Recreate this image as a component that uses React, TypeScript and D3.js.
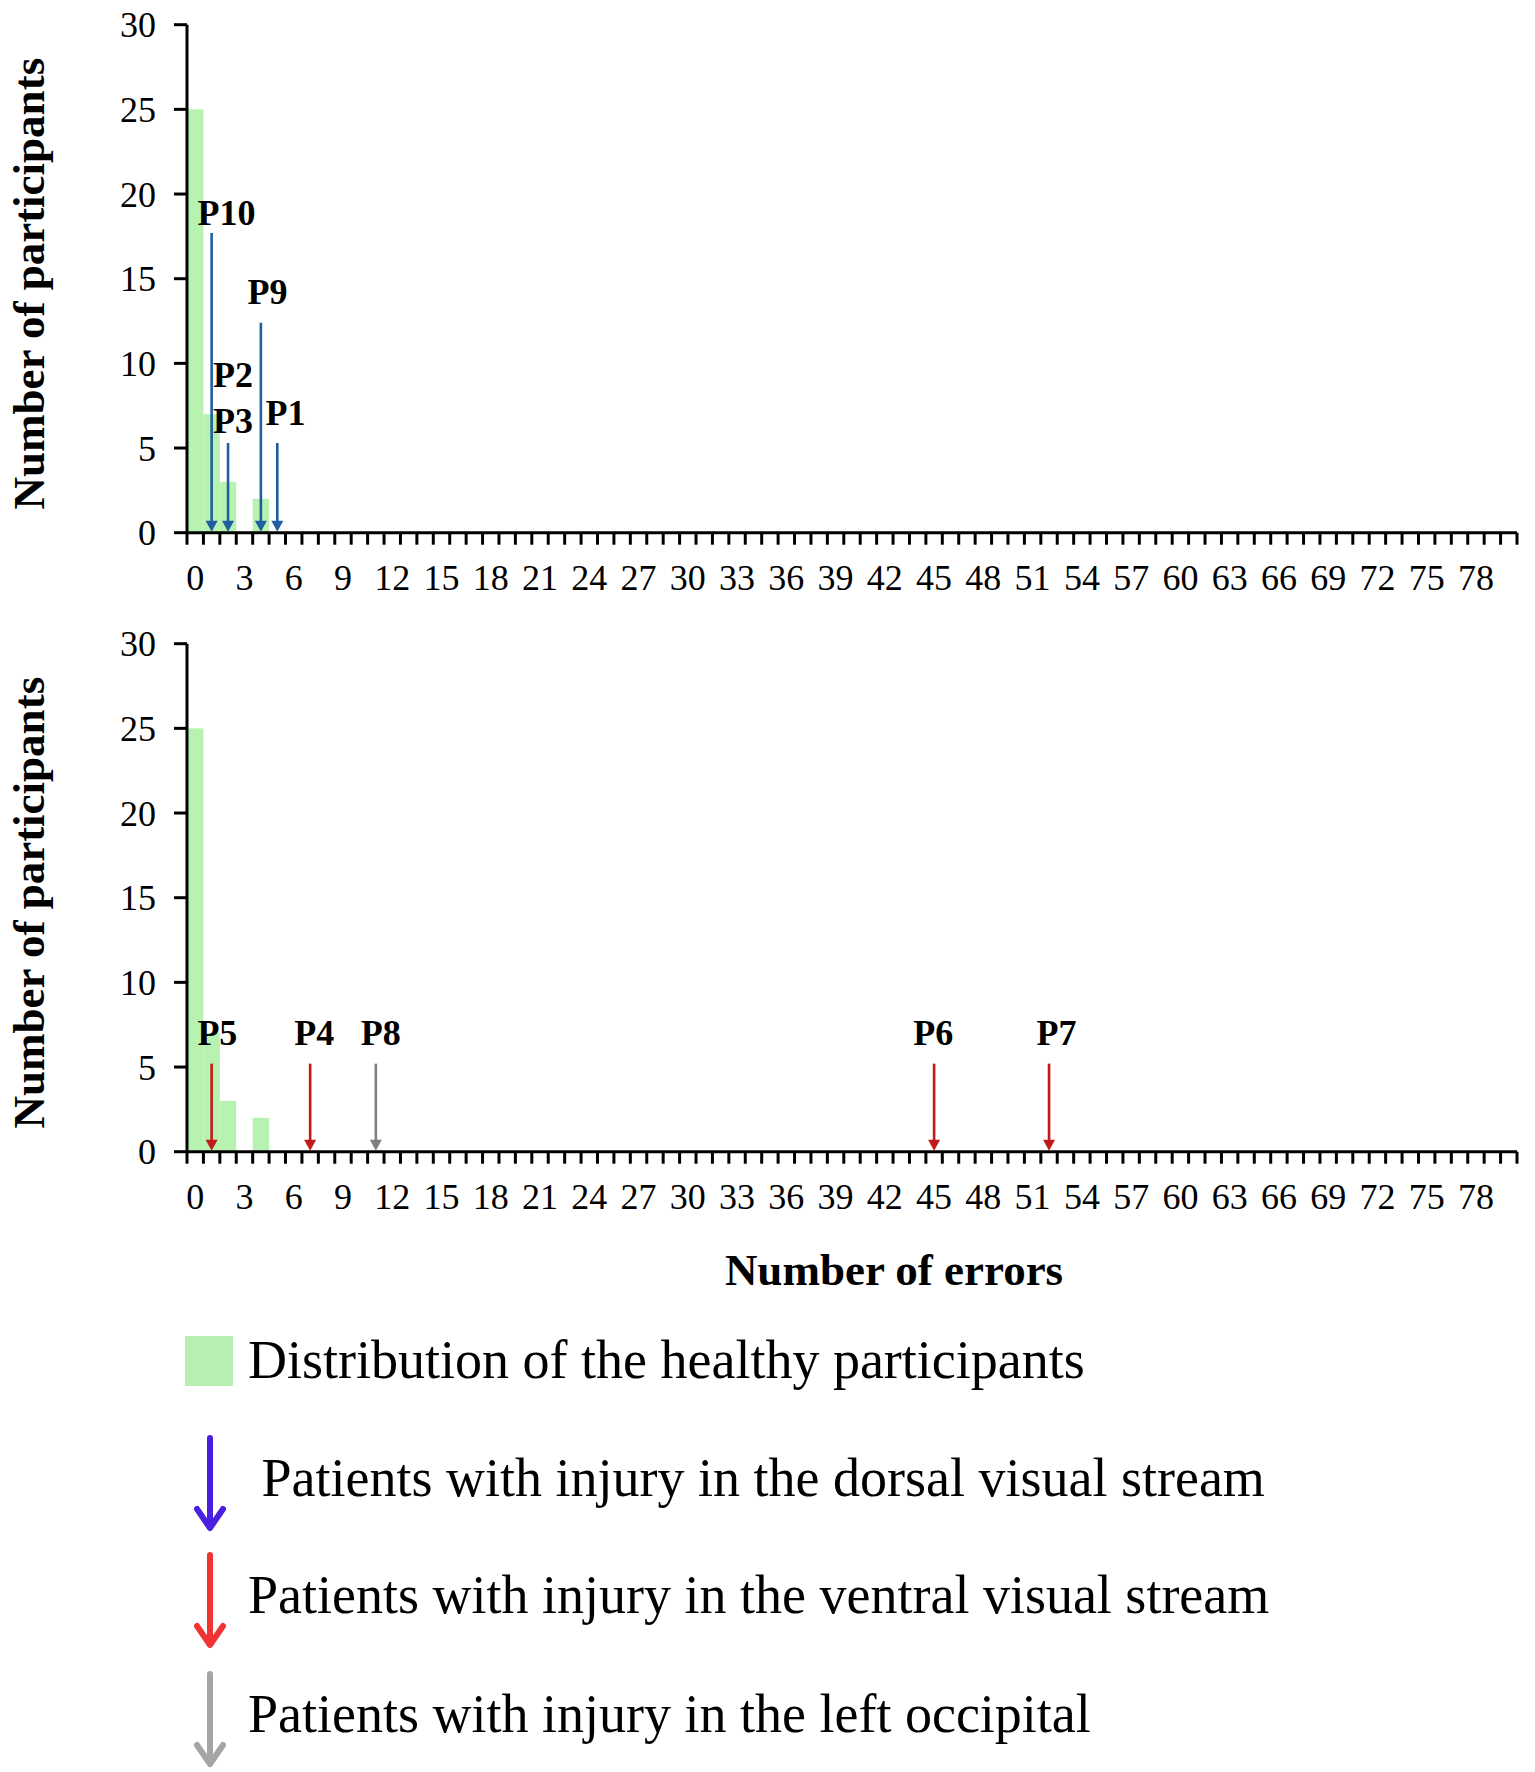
import * as d3 from "d3";

// histogram of healthy participants (bins = number of errors)
const errorBins = d3.range(0, 81);
const healthyCounts = [25, 7, 3, 0, 2];
const xTickLabels = d3.range(0, 79, 3);
const yTicks = [0, 5, 10, 15, 20, 25, 30];

// patients: label, number of errors
const dorsalPatients = [
  { id: "P10", errors: 1 },
  { id: "P3", errors: 2 },
  { id: "P9", errors: 4 },
  { id: "P1", errors: 5 },
];
const ventralPatients = [
  { id: "P5", errors: 1 },
  { id: "P4", errors: 7 },
  { id: "P6", errors: 45 },
  { id: "P7", errors: 52 },
];
const occipitalPatients = [{ id: "P8", errors: 11 }];
// P2 shares the arrow of P10 (label only)
const extraLabels = [{ id: "P2", errors: 2 }];

// arrow start (y value) and label placement per patient
const arrowTop: Record<string, number> = {
  P10: 17.7, P3: 5.3, P9: 12.4, P1: 5.3,
  P5: 5.2, P4: 5.2, P8: 5.2, P6: 5.2, P7: 5.2,
};
const labelPos: Record<string, [number, number]> = {
  P10: [0.9, 18.2], P2: [0.3, 8.6], P3: [0.3, 5.9], P9: [0.4, 13.5], P1: [0.5, 6.35],
  P5: [0.35, 6.3], P4: [0.25, 6.3], P8: [0.3, 6.3], P6: [-0.05, 6.3], P7: [0.45, 6.3],
};

const legendItems = [
  { kind: "rect", color: "#b6efb0", text: "Distribution of the healthy participants" },
  { kind: "arrow", color: "#4b1fe0", text: " Patients with injury in the dorsal visual stream" },
  { kind: "arrow", color: "#f03434", text: "Patients with injury in the ventral visual stream" },
  { kind: "arrow", color: "#a5a5a5", text: "Patients with injury in the left occipital" },
];

const W = 1535;
const H = 1772;
const serif = "'Liberation Serif', 'Times New Roman', serif";
const barColor = "#b7f2b0";

const x = d3.scaleBand<number>().domain(errorBins).range([187, 1517]).padding(0);

type Ann = { id: string; errors: number; color: string };

const Panel = ({ y0, anns, labels }: { y0: number; anns: Ann[]; labels: { id: string; errors: number }[] }) => {
  const y = d3.scaleLinear().domain([0, 30]).range([y0, y0 - 508]);
  const bw = x.bandwidth();
  const [r0, r1] = x.range();
  const boundaries = d3.range(0, errorBins.length + 1).map((i) => r0 + i * x.step());
  const cx = (e: number) => (x(e) ?? 0) + bw / 2;
  return (
    <g>
      {healthyCounts.map((c, i) =>
        c > 0 ? (
          <rect key={i} x={x(i)} y={y(c)} width={bw} height={y(0) - y(c)} fill={barColor} />
        ) : null
      )}
      {/* y axis */}
      <line x1={r0} x2={r0} y1={y(30)} y2={y(0)} stroke="#000" strokeWidth={3} />
      {yTicks.map((t) => (
        <g key={t}>
          <line x1={r0 - 13} x2={r0} y1={y(t)} y2={y(t)} stroke="#000" strokeWidth={3} />
          <text x={r0 - 31} y={y(t)} dy="0.35em" textAnchor="end" fontSize={36} fontFamily={serif}>
            {t}
          </text>
        </g>
      ))}
      {/* x axis */}
      <line x1={r0} x2={r1} y1={y(0)} y2={y(0)} stroke="#000" strokeWidth={3} />
      {boundaries.map((b, i) => (
        <line key={i} x1={b} x2={b} y1={y(0)} y2={y(0) + 12} stroke="#000" strokeWidth={3} />
      ))}
      {xTickLabels.map((t) => (
        <text key={t} x={cx(t)} y={y(0) + 57} textAnchor="middle" fontSize={36} fontFamily={serif}>
          {t}
        </text>
      ))}
      {/* patient arrows */}
      {anns.map((a) => {
        const ax = cx(a.errors);
        const tip = y(0) - 1;
        return (
          <g key={a.id}>
            <line x1={ax} x2={ax} y1={y(arrowTop[a.id])} y2={tip - 8} stroke={a.color} strokeWidth={2.6} />
            <path d={`M${ax - 6},${tip - 11}L${ax + 6},${tip - 11}L${ax},${tip}Z`} fill={a.color} />
          </g>
        );
      })}
      {[...anns, ...labels].map((a) => {
        const [dx, ly] = labelPos[a.id];
        return (
          <text
            key={"l" + a.id}
            x={cx(a.errors) + dx * x.step()}
            y={y(ly)}
            textAnchor="middle"
            fontSize={36}
            fontWeight="bold"
            fontFamily={serif}
          >
            {a.id}
          </text>
        );
      })}
      {/* y title */}
      <text
        transform={`translate(44,${y(15) + 5}) rotate(-90)`}
        textAnchor="middle"
        fontSize={45}
        fontWeight="bold"
        fontFamily={serif}
      >
        Number of participants
      </text>
    </g>
  );
};

const App = () => {
  const topAnns: Ann[] = dorsalPatients.map((p) => ({ ...p, color: "#1f5f9f" }));
  const bottomAnns: Ann[] = [
    ...ventralPatients.map((p) => ({ ...p, color: "#c01a1a" })),
    ...occipitalPatients.map((p) => ({ ...p, color: "#7f7f7f" })),
  ];
  const legendY = [1361, 1483, 1600, 1719];
  return (
    <svg
      width={W}
      height={H}
      style={{ position: "absolute", left: 0, top: 0, background: "#fff" }}
    >
      <rect width={W} height={H} fill="#fff" />
      <Panel y0={532.7} anns={topAnns} labels={extraLabels} />
      <Panel y0={1151.7} anns={bottomAnns} labels={[]} />
      <text x={894} y={1285} textAnchor="middle" fontSize={45} fontWeight="bold" fontFamily={serif}>
        Number of errors
      </text>
      {legendItems.map((it, i) => {
        const cy = legendY[i];
        return (
          <g key={i}>
            {it.kind === "rect" ? (
              <rect x={185} y={cy - 25} width={48} height={50} fill={it.color} />
            ) : (
              <g stroke={it.color} strokeWidth={6} fill="none" strokeLinecap="round" strokeLinejoin="round">
                <line x1={210} x2={210} y1={cy - 45} y2={cy + 44} />
                <path d={`M${197},${cy + 26}L210,${cy + 45}L${223},${cy + 26}`} />
              </g>
            )}
            <text
              x={248}
              y={i === 0 ? cy + 17 : cy + 13 + (i === 1 ? 0 : 0)}
              fontSize={54}
              fontFamily={serif}
              style={{ whiteSpace: "pre" }}
            >
              {it.text}
            </text>
          </g>
        );
      })}
    </svg>
  );
};

export default App;
